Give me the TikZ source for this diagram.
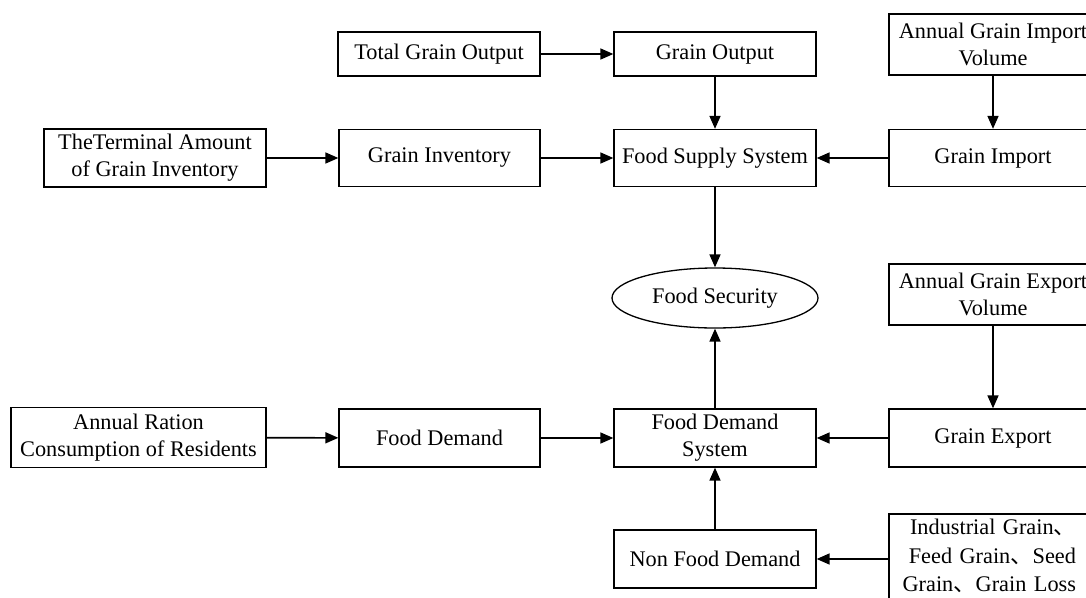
\documentclass[tikz,border=0pt]{standalone}
\usepackage{fontspec}
\setmainfont{Liberation Serif}
\newfontfamily\cjk{Noto Sans CJK SC}
\usetikzlibrary{arrows.meta,shapes.geometric}
\begin{document}
\begin{tikzpicture}[x=1pt,y=-1pt,
  box/.style={draw,line width=1.3pt,rectangle,inner sep=0pt,align=center,font=\fontsize{22.3}{27}\selectfont},
  oval/.style={draw,line width=1.3pt,ellipse,inner sep=0pt,font=\fontsize{22.3}{27}\selectfont},
  arr/.style={line width=1.6pt,-{Triangle[length=13pt,width=11pt]}}]
\useasboundingbox (0,0) rectangle (1086,597);
\clip (0,0) rectangle (1086,597);
% row 1
\node[box,minimum width=202,minimum height=44] (tgo) at (439,54) {Total Grain Output};
\node[box,minimum width=202,minimum height=44] (go) at (715,54) {Grain Output};
\node[box,minimum width=208,minimum height=61] (agi) at (993,44.5) {Annual Grain Import\\Volume};
% row 2
\node[box,minimum width=222,minimum height=58] (tai) at (155,158) {TheTerminal Amount\\of Grain Inventory};
\node[box,minimum width=201,minimum height=57] (gi) at (439.5,158) {Grain Inventory};
\node[box,minimum width=202,minimum height=57] (fss) at (715,158) {Food Supply System};
\node[box,minimum width=208,minimum height=57] (gim) at (993,158) {Grain Import};
% row 3
\node[oval,minimum width=206,minimum height=60] (fs) at (715,298) {Food Security};
\node[box,minimum width=208,minimum height=61] (age) at (993,294.5) {Annual Grain Export\\Volume};
% row 4
\node[box,minimum width=255,minimum height=60] (arc) at (138.5,437.5) {Annual Ration\\Consumption of Residents};
\node[box,minimum width=201,minimum height=58] (fd) at (439.5,438) {Food Demand};
\node[box,minimum width=202,minimum height=58] (fds) at (715,438) {Food Demand\\System};
\node[box,minimum width=208,minimum height=58] (ge) at (993,438) {Grain Export};
% row 5
\node[box,minimum width=202,minimum height=58] (nfd) at (715,559) {Non Food Demand};
\node[box,minimum width=208,minimum height=110] (ind) at (993,569) {};
\node[font=\fontsize{22.3}{28.5}\selectfont,align=right,text width=190,inner sep=0pt] (indt) at (981,556)
  {Industrial Grain{\cjk 、}\\Feed Grain{\cjk 、}Seed\\Grain{\cjk 、}Grain Loss};
% connectors
\draw[arr] (tgo) -- (go);
\draw[arr] (go) -- (fss);
\draw[arr] (agi) -- (gim);
\draw[arr] (tai) -- (gi);
\draw[arr] (gi) -- (fss);
\draw[arr] (gim) -- (fss);
\draw[arr] (fss) -- (fs);
\draw[arr] (fds) -- (fs);
\draw[arr] (age) -- (ge);
\draw[arr] (arc) -- (fd);
\draw[arr] (fd) -- (fds);
\draw[arr] (ge) -- (fds);
\draw[arr] (nfd) -- (fds);
\draw[arr] (ind.west |- nfd.east) -- (nfd.east);
\end{tikzpicture}
\end{document}
